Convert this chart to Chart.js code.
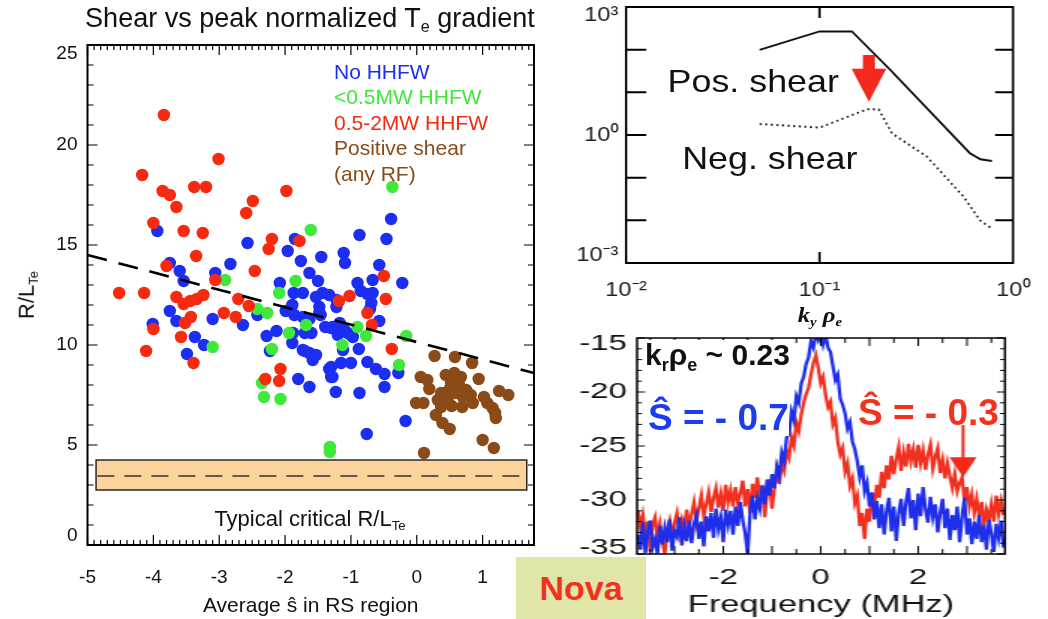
<!DOCTYPE html>
<html><head><meta charset="utf-8">
<title>Shear vs peak normalized Te gradient</title>
<script src="https://cdn.jsdelivr.net/npm/chart.js@4.4.1/dist/chart.umd.min.js"></script>
<style>
html,body{margin:0;padding:0;background:#fff}
body{width:1048px;height:619px;position:relative;overflow:hidden;font-family:"Liberation Sans",Arial,Helvetica,sans-serif;color:#111}
.abs{position:absolute;white-space:nowrap;line-height:1}
.sb{font-size:.6em;vertical-align:-.32em}
canvas{position:absolute;left:0;top:0}
</style></head><body>
<canvas id="cLeft" width="560" height="619"></canvas>
<div class="abs" style="left:10px;top:5px;width:600px;text-align:center;font-size:27px">Shear vs peak normalized T<span class="sb">e</span> gradient</div>
<div class="abs" style="left:334px;top:61px;font-size:21px;color:#1b2ef2">No HHFW</div>
<div class="abs" style="left:334px;top:86px;font-size:21px;color:#3fe83b">&lt;0.5MW HHFW</div>
<div class="abs" style="left:334px;top:112px;font-size:21px;color:#f7290f">0.5-2MW HHFW</div>
<div class="abs" style="left:334px;top:137px;font-size:21px;color:#8a4b18">Positive shear</div>
<div class="abs" style="left:334px;top:163px;font-size:21px;color:#8a4b18">(any RF)</div>
<div class="abs" style="left:28px;top:295px;font-size:22px;transform:translate(-50%,-50%) rotate(-90deg)">R/L<span class="sb">Te</span></div>
<div class="abs" style="left:110px;top:508px;width:400px;text-align:center;font-size:22px">Typical critical R/L<span class="sb">Te</span></div>

<div class="abs" style="left:550px;top:0;width:445px;height:330px;transform:scaleX(1.12);transform-origin:0 0">
  <canvas id="cTop" width="445" height="330"></canvas>
  <div class="abs" style="left:105px;top:65px;font-size:32px">Pos. shear</div>
  <div class="abs" style="left:118px;top:142px;font-size:32px">Neg. shear</div>
  <div class="abs" style="left:191px;top:304px;width:100px;text-align:center;font:italic bold 22px 'Liberation Serif','DejaVu Serif',serif;line-height:1">k<span class="sb">y</span> ρ<span class="sb">e</span></div>
</div>

<div class="abs" style="left:550px;top:330px;width:332px;height:289px;transform:scaleX(1.5);transform-origin:0 0">
  <canvas id="cBot" width="332" height="289"></canvas>
</div>
<div class="abs" style="left:645px;top:340px;font-size:30px;font-weight:bold;background:#fff;padding-right:3px">k<span class="sb">r</span>ρ<span class="sb">e</span> ~ 0.23</div>
<div class="abs" style="left:648px;top:399px;font-size:37px;font-weight:bold;color:#1b3cf0;background:#fff">Ŝ = - 0.7</div>
<div class="abs" style="left:858px;top:394px;font-size:37px;font-weight:bold;color:#f5301e">Ŝ = - 0.3</div>
<div class="abs" style="left:516px;top:557px;width:130px;height:62px;background:#e2e5a8;text-align:center;line-height:62px;font-size:34px;font-weight:bold;color:#f2321e">Nova</div>

<script>
// ---------- Left scatter: average shear vs peak R/L_Te ----------
const NO_HHFW = [
 [-3.94,15.7],[-2.57,15.1],[-1.85,15.3],[-1.96,14.7],[-1.76,14.2],[-1.63,13.6],[-2.83,14.05],[-3.75,14.1],
 [-3.60,13.7],[-3.54,13.2],[-3.06,13.6],[-2.08,13.1],[-3.75,11.7],[-4.01,11.05],[-3.65,11.2],[-3.37,10.4],
 [-3.23,10.0],[-3.49,9.55],[-3.10,11.3],[-2.64,11.0],[-2.42,11.5],[-2.28,10.45],[-2.13,10.7],[-2.23,9.7],
 [-1.99,11.7],[-1.89,12.0],[-1.89,10.1],[-1.87,12.6],[-1.73,12.6],[-1.70,9.7],[-1.80,8.3],[-1.63,7.9],
 [-0.39,16.3],[-0.87,15.5],[-0.46,15.3],[-1.45,14.4],[-1.11,14.6],[-1.09,14.1],[-0.57,14.0],[-1.50,13.2],
 [-0.90,13.1],[-0.67,13.25],[-0.22,13.1],[-1.53,12.4],[-1.43,12.6],[-1.33,12.5],[-1.48,11.9],[-1.48,11.6],
 [-1.22,11.9],[-0.85,12.7],[-0.75,12.55],[-0.67,12.6],[-0.69,12.1],[-0.57,11.2],[-1.70,10.6],[-1.60,10.6],
 [-1.39,10.9],[-1.28,10.9],[-1.17,11.1],[-1.10,10.75],[-1.20,10.5],[-1.00,10.5],[-1.12,9.75],[-0.88,9.8],
 [-1.73,9.75],[-1.63,9.6],[-1.58,9.25],[-1.53,9.5],[-1.33,8.8],[-1.28,8.4],[-1.15,9.1],[-1.00,9.1],
 [-1.23,7.65],[-0.87,7.6],[-0.75,9.15],[-0.62,8.8],[-0.49,8.55],[-0.49,7.9],[-0.28,8.6],[-0.17,6.2],
 [-0.76,5.55],[-1.22,12.25],[-1.86,11.5],[-1.73,11.4],[-1.63,11.3],[-1.46,11.5],[-0.71,11.8],[-1.88,10.6],
 [-1.30,10.85],[-1.05,10.6],[-0.97,10.4],[-1.30,8.9],[-1.30,8.4]
];
const LOW_HHFW = [
 [-2.91,13.25],[-1.84,13.2],[-1.61,15.75],[-3.10,9.9],[-2.42,11.8],[-2.27,11.6],[-2.09,12.6],[-1.94,10.6],
 [-2.20,9.8],[-2.32,7.4],[-2.07,7.3],[-1.68,11.0],[-2.35,8.1],[-0.37,17.9],[-0.90,10.9],[-0.77,10.45],
 [-1.13,10.0],[-0.16,10.45],[-0.27,9.0],[-1.32,4.9],[-1.32,4.65]
];
const MID_HHFW = [
 [-3.84,21.5],[-3.01,19.3],[-4.17,18.5],[-3.86,17.7],[-3.75,17.5],[-3.38,17.9],[-3.20,17.9],[-3.65,16.9],
 [-1.98,17.7],[-2.49,17.2],[-2.59,16.6],[-4.00,16.1],[-3.54,15.7],[-3.25,15.6],[-2.20,15.3],[-2.25,14.8],
 [-1.78,15.2],[-3.35,14.45],[-2.46,13.7],[-3.80,13.95],[-3.06,13.25],[-4.52,12.6],[-4.14,12.6],[-3.65,12.4],
 [-3.54,12.05],[-3.44,12.2],[-3.34,12.3],[-3.24,12.5],[-3.43,11.4],[-3.52,11.1],[-4.00,10.8],[-3.58,10.4],
 [-4.11,9.7],[-3.39,9.1],[-2.93,11.6],[-2.75,11.4],[-2.71,12.3],[-2.55,11.95],[-2.07,8.8],[-2.30,8.3],
 [-2.09,8.2],[-0.50,13.45],[-1.18,12.2],[-1.02,12.45],[-0.47,12.3],[-0.75,11.6],[-0.68,11.0],[-0.38,9.8]
];
const POS_SHEAR = [
 [0.27,9.45],[0.58,9.4],[0.84,9.1],[0.06,8.4],[0.16,8.25],[0.19,7.8],[0.44,8.5],[0.57,8.6],[0.67,8.4],
 [0.94,8.3],[0.52,8.1],[0.49,7.75],[0.75,7.75],[0.82,7.5],[1.25,7.7],[1.39,7.5],[-0.01,7.1],[0.10,7.1],
 [0.32,7.25],[0.42,7.4],[0.53,6.95],[0.37,6.9],[0.69,6.9],[0.85,7.1],[1.02,7.4],[1.07,7.1],[1.15,6.85],
 [1.19,6.6],[1.20,6.35],[0.29,6.5],[0.39,6.1],[0.50,5.8],[1.00,5.25],[1.17,4.85],[0.11,4.6],[0.64,8.0],
 [0.70,7.4],[0.59,7.6],[0.47,7.2],[0.37,7.6]
];
const FIT_X = [-5, 1.78];
const FIT_Y = [14.5, 8.6];
const BAND_X = [-4.87, 1.67];
const BAND_Y = [2.75, 4.25];
const BAND_MID = 3.45;
const BAND_DASH_X = [-4.85, 1.64];
const LEFT_X_TICKS = [-5,-4,-3,-2,-1,0,1];
const LEFT_Y_TICKS = [0,5,10,15,20,25];

// ---------- Top right: growth spectrum vs k_y rho_e (log-log) ----------
const KY = [0.049, 0.1, 0.147, 0.232, 0.60, 0.678, 0.778];
const POS_GAMMA = [99, 268, 268, 33.7, 0.37, 0.27, 0.245];
const KY_NEG = [0.049, 0.1, 0.176, 0.202, 0.237, 0.359, 0.556, 0.675, 0.778];
const NEG_GAMMA = [1.81, 1.49, 4.0, 4.0, 1.09, 0.31, 0.0356, 0.01, 0.0064];
const TOP_X_TICKS = [0.01, 0.1, 1];
const TOP_Y_TICKS = [0.001, 1, 1000];
const TOP_ARROW = {x:0.18, yTail:75, yTip:6};

// ---------- Bottom right: frequency spectra (dB) ----------
const FREQ_START = -3.75, FREQ_STEP = 0.05;
const SPEC_S07 = [
 -33.2,-34.6,-32.1,-34.9,-33.0,-31.9,-34.4,-33.6,-35.0,-32.4,
 -34.1,-32.6,-33.9,-31.8,-34.7,-32.9,-33.4,-31.6,-34.2,-32.5,
 -33.8,-31.9,-34.0,-32.2,-31.4,-33.6,-32.0,-34.3,-31.5,-32.9,
 -31.2,-33.5,-30.8,-32.7,-31.6,-33.9,-30.9,-32.3,-31.0,-33.2,
 -30.6,-32.4,-30.2,-31.9,-33.1,-35.0,-31.2,-29.6,-31.8,-29.9,
 -30.8,-28.7,-30.4,-28.1,-29.6,-27.6,-28.9,-26.9,-27.8,-25.6,
 -26.4,-24.2,-23.9,-21.8,-22.6,-20.4,-21.0,-19.2,-18.6,-17.4,
 -16.8,-15.3,-15.9,-14.6,-15.2,-14.5,-15.6,-14.7,-15.9,-16.3,
 -17.6,-18.9,-18.4,-20.6,-21.2,-22.0,-23.4,-22.8,-24.6,-25.3,
 -26.4,-27.9,-26.8,-29.2,-28.4,-30.6,-29.3,-31.8,-30.1,-32.6,
 -30.4,-33.2,-31.0,-29.8,-32.9,-30.6,-33.8,-31.2,-29.9,-32.4,
 -30.2,-28.9,-31.7,-30.0,-32.8,-29.4,-31.5,-28.8,-30.9,-32.1,
 -29.7,-31.6,-30.4,-33.0,-31.2,-29.9,-32.6,-30.8,-33.7,-31.4,
 -32.8,-30.6,-33.9,-31.5,-29.8,-33.2,-31.7,-34.1,-32.0,-33.6,
 -31.4,-33.9,-32.3,-34.6,-31.8,-33.1,-34.8,-32.2,-33.5,-31.9,-34.4
];
const SPEC_S03 = [
 -31.0,-32.6,-31.4,-33.1,-32.0,-34.8,-32.3,-31.6,-33.4,-32.2,
 -33.8,-35.0,-32.7,-31.9,-33.5,-32.1,-31.2,-33.0,-31.8,-32.6,
 -30.9,-32.4,-31.3,-30.2,-32.0,-30.8,-29.6,-31.5,-30.4,-29.3,
 -31.1,-29.8,-28.9,-30.7,-29.4,-31.0,-28.6,-30.2,-29.1,-30.6,
 -28.8,-30.3,-29.4,-28.2,-30.6,-29.0,-31.2,-28.5,-29.8,-27.9,
 -30.1,-28.6,-31.6,-29.4,-28.1,-30.8,-28.9,-27.2,-28.5,-26.6,
 -27.3,-25.4,-26.1,-24.2,-25.0,-22.8,-23.6,-22.1,-21.0,-20.2,
 -19.6,-18.4,-17.3,-16.6,-17.8,-19.2,-18.6,-20.3,-21.4,-20.9,
 -23.0,-22.4,-24.6,-25.8,-25.2,-27.4,-26.6,-28.7,-28.0,-30.3,
 -29.6,-32.4,-31.2,-33.6,-30.8,-32.0,-29.4,-30.6,-28.6,-29.8,
 -27.4,-28.9,-26.8,-28.1,-25.9,-27.6,-26.2,-25.1,-27.3,-25.6,
 -26.9,-24.8,-26.4,-25.3,-27.0,-24.9,-26.6,-25.4,-27.2,-25.8,
 -24.9,-27.1,-26.0,-25.2,-27.5,-26.3,-28.0,-26.6,-27.8,-28.9,
 -27.6,-29.2,-28.4,-27.9,-30.1,-28.8,-30.6,-29.5,-31.2,-29.9,
 -31.5,-30.2,-32.3,-30.9,-31.8,-30.4,-32.0,-29.6,-31.3,-30.1,-31.4
];
const BOT_X_TICKS = [-2, 0, 2];
const BOT_Y_TICKS = [-35, -30, -25, -20, -15];
const S03_ARROW = {x:2.92, yFrom:-23.05, yTo:-27.9};

// ---------- colours ----------
const C_BLUE='#1b2ef2', C_GREEN='#3fe83b', C_RED='#f7290f', C_BROWN='#8a4b18', C_BAND='#fcd39b';

Chart.defaults.font.family = "'Liberation Sans', Arial, Helvetica, sans-serif";
Chart.defaults.color = '#111';
Chart.defaults.animation = false;
Chart.defaults.events = [];
Chart.defaults.plugins.legend.display = false;
Chart.defaults.plugins.tooltip.enabled = false;

function fixScale(size){
  return s => {
    if (s.isHorizontal()) s.height = size; else s.width = size;
    s.paddingTop = 0; s.paddingBottom = 0; s.paddingLeft = 0; s.paddingRight = 0;
  };
}
function setTicks(list){ return s => { s.ticks = list.map(v => ({value:v})); }; }
function endShift(list){
  return (v) => {
    const t = String(v);
    if (v === list[list.length-1]) return ['', t];
    if (v === list[0]) return [t, ''];
    return t;
  };
}
function drawFrame(chart, o){
  const {ctx, chartArea:a, scales:{x, y}} = chart;
  ctx.save();
  ctx.strokeStyle = '#000';
  ctx.setLineDash([]);
  ctx.lineWidth = o.tickWidth;
  ctx.beginPath();
  o.xTicks.forEach(([v, len]) => {
    const p = x.getPixelForValue(v);
    ctx.moveTo(p, a.bottom); ctx.lineTo(p, a.bottom - len);
    ctx.moveTo(p, a.top); ctx.lineTo(p, a.top + len);
  });
  o.yTicks.forEach(([v, lenL, lenR]) => {
    const p = y.getPixelForValue(v);
    ctx.moveTo(a.left, p); ctx.lineTo(a.left + lenL, p);
    ctx.moveTo(a.right, p); ctx.lineTo(a.right - lenR, p);
  });
  ctx.stroke();
  ctx.lineWidth = o.frameWidth;
  ctx.strokeRect(a.left, a.top, a.right - a.left, a.bottom - a.top);
  ctx.restore();
}

// axis tick mark lists (axis furniture, not data)
const leftXMarks = []; for (let k = -50; k <= 17; k++) leftXMarks.push([k/10, k % 10 === 0 ? 10 : 5]);
const leftYMarks = []; for (let v = 0; v <= 25; v++) leftYMarks.push([v, v % 5 === 0 ? 10 : 6, v % 5 === 0 ? 10 : 6]);
const topXMarks = [[0.1, 11]];
const topYMarks = []; for (let e = -2; e <= 2; e++) topYMarks.push([Math.pow(10, e), 18, 16]);
const botXMarks = []; for (let k = -7; k <= 7; k++) botXMarks.push([k/2, k % 2 === 0 ? 8 : 5]);
const botYMarks = []; for (let v = -35; v <= -15; v++) botYMarks.push([v, v % 5 === 0 ? 5.3 : 3.3, v % 5 === 0 ? 5.3 : 3.3]);

const toXY = arr => arr.map(([x, y]) => ({x, y}));

// ===== Left chart =====
const leftDeco = {
  id:'leftDeco',
  beforeDatasetsDraw(chart){
    const {ctx, scales:{x, y}} = chart;
    const x0 = x.getPixelForValue(BAND_X[0]), x1 = x.getPixelForValue(BAND_X[1]);
    const y0 = y.getPixelForValue(BAND_Y[1]), y1 = y.getPixelForValue(BAND_Y[0]);
    ctx.save();
    ctx.fillStyle = C_BAND;
    ctx.fillRect(x0, y0, x1 - x0, y1 - y0);
    ctx.strokeStyle = '#2a2a2a'; ctx.lineWidth = 1.5;
    ctx.strokeRect(x0, y0, x1 - x0, y1 - y0);
    const ym = y.getPixelForValue(BAND_MID);
    ctx.setLineDash([17, 10]); ctx.lineWidth = 1.4; ctx.strokeStyle = '#333';
    ctx.beginPath();
    ctx.moveTo(x.getPixelForValue(BAND_DASH_X[0]), ym);
    ctx.lineTo(x.getPixelForValue(BAND_DASH_X[1]), ym);
    ctx.stroke();
    ctx.restore();
  },
  afterDatasetsDraw(chart){
    drawFrame(chart, {xTicks:leftXMarks, yTicks:leftYMarks, tickWidth:1.2, frameWidth:2});
  }
};

new Chart(document.getElementById('cLeft'), {
  type:'scatter',
  data:{datasets:[
    {label:'No HHFW', data:toXY(NO_HHFW), backgroundColor:C_BLUE, order:5},
    {label:'<0.5MW HHFW', data:toXY(LOW_HHFW), backgroundColor:C_GREEN, order:4},
    {label:'0.5-2MW HHFW', data:toXY(MID_HHFW), backgroundColor:C_RED, order:3},
    {label:'Positive shear (any RF)', data:toXY(POS_SHEAR), backgroundColor:C_BROWN, order:2},
    {type:'line', label:'trend', data:FIT_X.map((x, i) => ({x, y:FIT_Y[i]})), borderColor:'#000',
     borderWidth:2.6, borderDash:[20, 12], pointRadius:0, fill:false, order:1}
  ]},
  options:{
    responsive:false,
    layout:{padding:{left:0, right:26, top:45, bottom:0}},
    elements:{point:{radius:6.2, borderWidth:0, hoverRadius:6.2}},
    scales:{
      x:{type:'linear', min:-5, max:1.78,
         grid:{display:false, drawTicks:false}, border:{display:false},
         afterBuildTicks:setTicks(LEFT_X_TICKS),
         ticks:{font:{size:19}, padding:21, color:'#111', callback:v => String(v)},
         title:{display:true, text:'Average ŝ in RS region', font:{size:21}, color:'#111', padding:{top:0, bottom:0}},
         afterFit:fixScale(74)},
      y:{type:'linear', min:0, max:25,
         grid:{display:false, drawTicks:false}, border:{display:false},
         afterBuildTicks:setTicks(LEFT_Y_TICKS),
         ticks:{font:{size:19, lineHeight:0.95}, padding:10, color:'#111', callback:endShift(LEFT_Y_TICKS)},
         afterFit:fixScale(87.5)}
    }
  },
  plugins:[leftDeco]
});

// ===== Top right chart =====
const SUP = {'-':'⁻','0':'⁰','1':'¹','2':'²','3':'³'};
const powLabel = v => '10' + String(Math.round(Math.log10(v))).split('').map(c => SUP[c]).join('');
const topDeco = {
  id:'topDeco',
  afterDatasetsDraw(chart){
    const {ctx, scales:{x, y}} = chart;
    const px = x.getPixelForValue(TOP_ARROW.x);
    const tail = y.getPixelForValue(TOP_ARROW.yTail), tip = y.getPixelForValue(TOP_ARROW.yTip);
    const headH = 33, headW = 31, shaftW = 10.7, hb = tip - headH;
    ctx.save();
    ctx.fillStyle = '#f5281e';
    ctx.beginPath();
    ctx.moveTo(px - shaftW/2, tail); ctx.lineTo(px + shaftW/2, tail);
    ctx.lineTo(px + shaftW/2, hb); ctx.lineTo(px + headW/2, hb);
    ctx.lineTo(px, tip); ctx.lineTo(px - headW/2, hb);
    ctx.lineTo(px - shaftW/2, hb); ctx.closePath(); ctx.fill();
    ctx.restore();
    drawFrame(chart, {xTicks:topXMarks, yTicks:topYMarks, tickWidth:2, frameWidth:2});
  }
};
new Chart(document.getElementById('cTop'), {
  type:'line',
  data:{datasets:[
    {label:'Pos. shear', data:KY.map((x, i) => ({x, y:POS_GAMMA[i]})), borderColor:'#111', borderWidth:2, pointRadius:0, tension:0},
    {label:'Neg. shear', data:KY_NEG.map((x, i) => ({x, y:NEG_GAMMA[i]})), borderColor:'#333', borderWidth:2, borderDash:[2, 3], pointRadius:0, tension:0}
  ]},
  options:{
    responsive:false,
    layout:{padding:{left:0, right:31.6, top:7, bottom:0}},
    scales:{
      x:{type:'logarithmic', min:0.01, max:1,
         grid:{display:false, drawTicks:false}, border:{display:false},
         afterBuildTicks:setTicks(TOP_X_TICKS),
         ticks:{font:{size:21}, padding:14.4, color:'#222', callback:v => powLabel(v)},
         afterFit:fixScale(67)},
      y:{type:'logarithmic', min:0.001, max:1000,
         grid:{display:false, drawTicks:false}, border:{display:false},
         afterBuildTicks:setTicks(TOP_Y_TICKS),
         ticks:{font:{size:21, lineHeight:0.76}, padding:7, color:'#222',
                callback:v => { const t = powLabel(v); return v === 1000 ? ['', t] : v === 0.001 ? [t, ''] : t; }},
         afterFit:fixScale(67.9)}
    }
  },
  plugins:[topDeco]
});

// ===== Bottom right chart =====
const freqAt = i => FREQ_START + i * FREQ_STEP;
const botDeco = {
  id:'botDeco',
  afterDatasetsDraw(chart){
    const {ctx, scales:{x, y}} = chart;
    const px = x.getPixelForValue(S03_ARROW.x);
    const y0 = y.getPixelForValue(S03_ARROW.yFrom), tip = y.getPixelForValue(S03_ARROW.yTo);
    const headH = 20, headW = 18;
    ctx.save();
    ctx.strokeStyle = '#f5281e'; ctx.fillStyle = '#f5281e'; ctx.lineWidth = 2;
    ctx.beginPath(); ctx.moveTo(px, y0); ctx.lineTo(px, tip - headH + 1); ctx.stroke();
    ctx.beginPath(); ctx.moveTo(px - headW/2, tip - headH); ctx.lineTo(px + headW/2, tip - headH); ctx.lineTo(px, tip); ctx.closePath(); ctx.fill();
    ctx.restore();
    drawFrame(chart, {xTicks:botXMarks, yTicks:botYMarks, tickWidth:1, frameWidth:1.5});
  }
};
new Chart(document.getElementById('cBot'), {
  type:'line',
  data:{datasets:[
    {label:'S = -0.7', data:SPEC_S07.map((v, i) => ({x:freqAt(i), y:v})), borderColor:'#1f2ee8', borderWidth:2.3, pointRadius:0, tension:0, order:1, clip:0},
    {label:'S = -0.3', data:SPEC_S03.map((v, i) => ({x:freqAt(i), y:v})), borderColor:'#f2301f', borderWidth:2.3, pointRadius:0, tension:0, order:2, clip:0}
  ]},
  options:{
    responsive:false,
    layout:{padding:{left:0, right:28.7, top:8, bottom:0}},
    scales:{
      x:{type:'linear', min:-3.77, max:3.78,
         grid:{display:false, drawTicks:false}, border:{display:false},
         afterBuildTicks:setTicks(BOT_X_TICKS),
         ticks:{font:{size:22}, padding:10.8, color:'#111', callback:v => String(v)},
         title:{display:true, text:'Frequency (MHz)', font:{size:23}, color:'#111', padding:{top:0, bottom:0}},
         afterFit:fixScale(65)},
      y:{type:'linear', min:-35, max:-15,
         grid:{display:false, drawTicks:false}, border:{display:false},
         afterBuildTicks:setTicks(BOT_Y_TICKS),
         ticks:{font:{size:22, lineHeight:0.55}, padding:6.7, color:'#111', callback:endShift(BOT_Y_TICKS)},
         afterFit:fixScale(58)}
    }
  },
  plugins:[botDeco]
});
</script>
</body></html>
